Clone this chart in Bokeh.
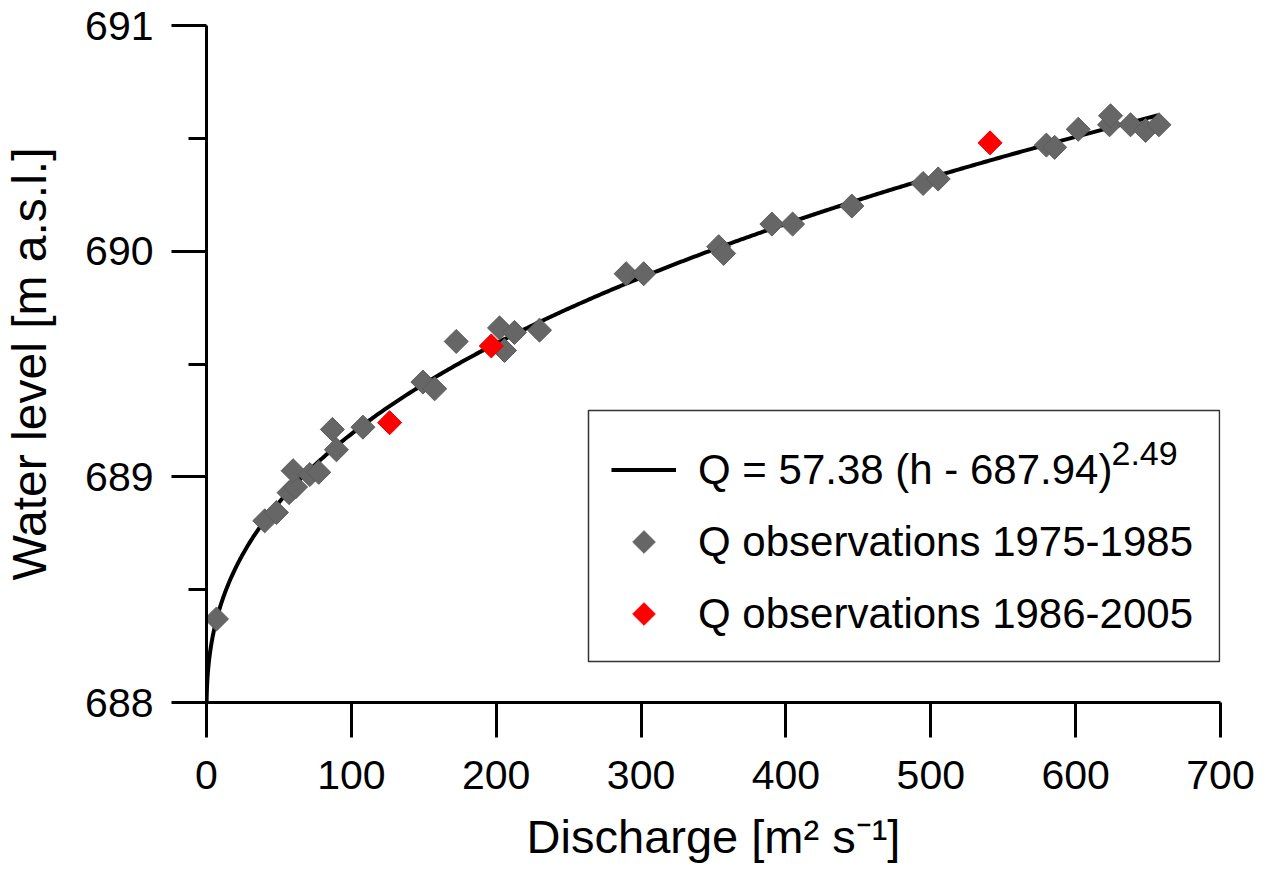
import numpy as np
from bokeh.plotting import figure
from bokeh.models import Range1d, FixedTicker, Legend, LegendItem, Label
from bokeh.embed import file_html
from bokeh.resources import INLINE

# Rating curve parameters (from the legend equation Q = a (h - h0)^b)
rating_a = 57.38
rating_h0 = 687.94
rating_b = 2.49
curve_q_max = 657.0

# Observations 1975-1985 (discharge, water level)
obs_old_q = [6.9, 40.2, 48.3, 57.0, 61.5, 59.8, 71.3, 77.5, 86.9, 89.7, 108.0,
             149.4, 157.5, 172.4, 202.3, 205.7, 212.6, 229.9, 289.7, 301.8,
             353.6, 357.0, 390.3, 404.6, 445.5, 494.7, 505.1, 579.8, 585.5,
             601.8, 623.4, 624.1, 637.9, 648.3, 657.5]
obs_old_h = [688.37, 688.805, 688.842, 688.93, 688.955, 689.027, 689.01, 689.02,
             689.21, 689.12, 689.22, 689.42, 689.39, 689.60, 689.66, 689.56,
             689.64, 689.65, 689.90, 689.90, 690.02, 689.99, 690.12, 690.12,
             690.20, 690.30, 690.32, 690.47, 690.46, 690.54, 690.56, 690.60,
             690.56, 690.535, 690.56]

# Observations 1986-2005
obs_new_q = [126.4, 196.6, 540.9]
obs_new_h = [689.24, 689.58, 690.48]

x_ticks = [0, 100, 200, 300, 400, 500, 600, 700]
y_ticks = [688, 689, 690, 691]
y_minor = [688.5, 689.5, 690.5]

legend_labels = ["Q = 57.38 (h - 687.94)", "Q observations 1975-1985",
                 "Q observations 1986-2005"]
legend_exponent = "2.49"

GRAY = "#666666"
RED = "#ff0000"
FONT = "Liberation Sans"

# Layout constants (pixels, frame-relative, y up)
FW, FH = 1014, 677
BOX_L, BOX_R, BOX_B, BOX_T = 382, 1013, 41, 292
LEG_X, LEG_Y = 405, 64
LEG_GW, LEG_GH, LEG_SP, LEG_STANDOFF = 65, 49, 23, 22
MARKER_SIZE = 17

# Rating curve drawn from the stated equation
q_curve = np.concatenate([np.linspace(0, 10, 300), np.linspace(10, curve_q_max, 500)])
h_curve = rating_h0 + (q_curve / rating_a) ** (1.0 / rating_b)

p = figure(frame_width=FW, frame_height=FH,
           x_range=Range1d(0, 700), y_range=Range1d(688, 691),
           output_backend="svg", toolbar_location=None,
           min_border_left=205, min_border_top=25, min_border_right=36,
           min_border_bottom=10)
p.outline_line_color = None
p.grid.visible = False
p.background_fill_color = "white"
p.border_fill_color = "white"
p.extra_x_ranges = {"px": Range1d(0, FW)}
p.extra_y_ranges = {"px": Range1d(0, FH)}

# legend frame (drawn in frame-pixel space)
p.quad(left=[BOX_L], right=[BOX_R], bottom=[BOX_B], top=[BOX_T],
       x_range_name="px", y_range_name="px",
       fill_color="white", line_color="#333333", line_width=1.5)

line_r = p.line(q_curve, h_curve, line_color="black", line_width=4)
p.scatter(obs_old_q, obs_old_h, marker="square", angle=np.pi / 4, size=MARKER_SIZE,
          fill_color=GRAY, line_color="#5c5c5c", line_width=1)
p.scatter(obs_new_q, obs_new_h, marker="square", angle=np.pi / 4, size=MARKER_SIZE,
          fill_color=RED, line_color="#ee0000", line_width=1)

# invisible proxies for legend rows whose symbol is drawn as a rotated square
proxy_old = p.scatter(x=[], y=[], marker="square", fill_alpha=0, line_alpha=0)
proxy_new = p.scatter(x=[], y=[], marker="square", fill_alpha=0, line_alpha=0)

p.xaxis.ticker = FixedTicker(ticks=x_ticks, minor_ticks=[])
p.yaxis.ticker = FixedTicker(ticks=y_ticks, minor_ticks=y_minor)

for ax in (p.xaxis[0], p.yaxis[0]):
    ax.axis_line_width = 3
    ax.major_tick_line_width = 3
    ax.minor_tick_line_width = 3
    ax.major_tick_out = 35
    ax.major_tick_in = 0
    ax.minor_tick_out = 18
    ax.minor_tick_in = 0
    ax.major_label_text_font = FONT
    ax.major_label_text_font_size = "41px"
    ax.major_label_text_color = "black"
    ax.axis_label_text_font = FONT
    ax.axis_label_text_font_style = "normal"
    ax.axis_label_text_color = "black"

p.xaxis.axis_label = "Discharge [m² s⁻¹]"
p.yaxis.axis_label = "Water level [m a.s.l.]"
p.xaxis.axis_label_text_font_size = "47px"
p.yaxis.axis_label_text_font_size = "48px"
p.xaxis.major_label_standoff = 23
p.xaxis.axis_label_standoff = 18
p.yaxis.major_label_standoff = 18
p.yaxis.axis_label_standoff = 26

legend = Legend(items=[
    LegendItem(label=legend_labels[0], renderers=[line_r]),
    LegendItem(label=legend_labels[1], renderers=[proxy_old]),
    LegendItem(label=legend_labels[2], renderers=[proxy_new]),
], location=(LEG_X, LEG_Y))
legend.label_text_font = FONT
legend.label_text_font_size = "42px"
legend.label_text_color = "black"
legend.glyph_width = LEG_GW
legend.glyph_height = LEG_GH
legend.label_height = LEG_GH
legend.label_standoff = LEG_STANDOFF
legend.spacing = LEG_SP
legend.padding = 0
legend.margin = 0
legend.border_line_color = None
legend.background_fill_alpha = 0
p.add_layout(legend)

# legend symbols (rotated squares) in frame-pixel space
leg_top = LEG_Y + 3 * LEG_GH + 2 * LEG_SP
sym_x = LEG_X + LEG_GW / 2
row_c = [leg_top - LEG_GH / 2 - i * (LEG_GH + LEG_SP) for i in range(3)]
p.scatter([sym_x], [row_c[1]], x_range_name="px", y_range_name="px",
          marker="square", angle=np.pi / 4, size=16,
          fill_color=GRAY, line_color=GRAY)
p.scatter([sym_x], [row_c[2]], x_range_name="px", y_range_name="px",
          marker="square", angle=np.pi / 4, size=16,
          fill_color=RED, line_color=RED)

sup = Label(x=905, y=row_c[0] + 17, x_units="screen", y_units="screen",
            text=legend_exponent, text_font=FONT, text_font_size="34px",
            text_color="black", text_baseline="alphabetic", text_align="left")
sup.level = "overlay"
p.add_layout(sup)

open("out.html", "w").write(file_html(p, INLINE))
